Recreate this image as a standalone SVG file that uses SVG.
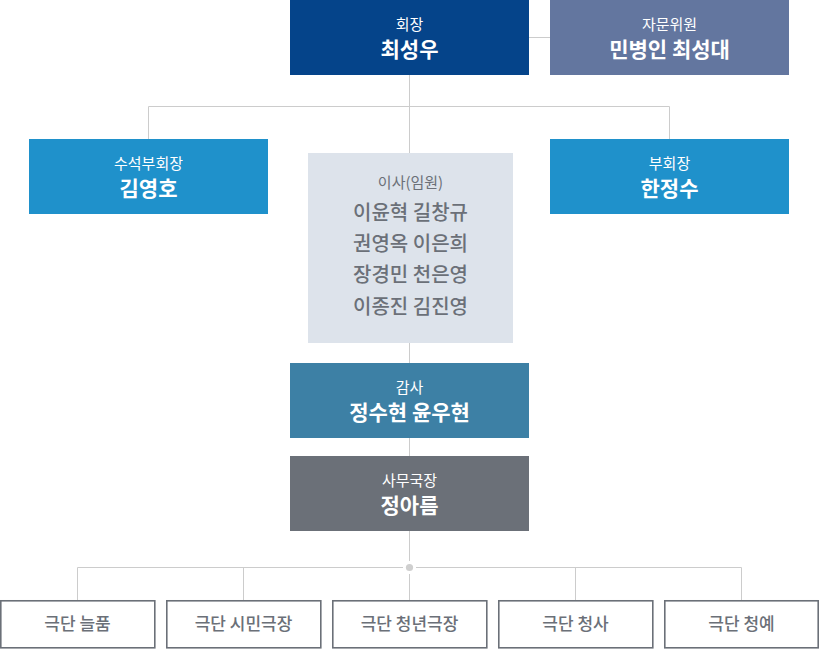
<svg xmlns="http://www.w3.org/2000/svg" width="819" height="649" viewBox="0 0 819 649">
<style>
text{font-family:"Noto Sans CJK KR","Noto Sans",sans-serif;text-anchor:middle}
.t{fill:#fff;font-size:15px;font-weight:400}
.n{fill:#fff;font-size:21px;font-weight:700}
.line{stroke:#cccccc;stroke-width:1;fill:none}
.bot rect{fill:#fff;stroke:#6b7078;stroke-width:1.6}
.bt{fill:#6b7078;font-size:17px;font-weight:500}
.it{fill:#6b7078;font-size:15px;font-weight:400}
.in{fill:#6b7078;font-size:20px;font-weight:500}
</style>
<rect width="819" height="649" fill="#fff"/>
<g id="connectors">
<path class="line" d="M529 37.5H550"/>
<path class="line" d="M409.5 74V363"/>
<path class="line" d="M148.5 139V106.5H669.5V139"/>
<path class="line" d="M409.5 437V456"/>
<path class="line" d="M409.5 530V561"/>
<path class="line" d="M409.5 574V600"/>
<path class="line" d="M403 567.5H77.5V600"/>
<path class="line" d="M416 567.5H741.5V600"/>
<path class="line" d="M243.5 567.5V600"/>
<path class="line" d="M575.5 567.5V600"/>
<circle cx="409.5" cy="567.5" r="3.6" fill="#cfcfcf"/>
</g>
<g id="chairman">
<rect x="290" y="0" width="239" height="75" fill="#05448a"/>
<text class="t" x="409.5" y="30">회장</text>
<text class="n" x="409.5" y="57">최성우</text>
</g>
<g id="advisor">
<rect x="550" y="0" width="239" height="75" fill="#63769f"/>
<text class="t" x="669.5" y="30">자문위원</text>
<text class="n" x="669.5" y="57">민병인 최성대</text>
</g>
<g id="senior-vice">
<rect x="29" y="139" width="239" height="75" fill="#1f91cb"/>
<text class="t" x="148.5" y="169">수석부회장</text>
<text class="n" x="148.5" y="196">김영호</text>
</g>
<g id="vice">
<rect x="550" y="139" width="239" height="75" fill="#1f91cb"/>
<text class="t" x="669.5" y="169">부회장</text>
<text class="n" x="669.5" y="196">한정수</text>
</g>
<g id="directors">
<rect x="308" y="153" width="205" height="190" fill="#dde3eb"/>
<text class="it" x="410.5" y="188">이사(임원)</text>
<text class="in" x="410.5" y="220">이윤혁 길창규</text>
<text class="in" x="410.5" y="251">권영옥 이은희</text>
<text class="in" x="410.5" y="282">장경민 천은영</text>
<text class="in" x="410.5" y="314">이종진 김진영</text>
</g>
<g id="auditor">
<rect x="290" y="363" width="239" height="75" fill="#3d80a5"/>
<text class="t" x="409.5" y="393">감사</text>
<text class="n" x="409.5" y="420">정수현 윤우현</text>
</g>
<g id="secretary">
<rect x="290" y="456" width="239" height="75" fill="#6b7078"/>
<text class="t" x="409.5" y="486">사무국장</text>
<text class="n" x="409.5" y="513">정아름</text>
</g>
<g id="troupe1" class="bot"><rect x="0.8" y="600.8" width="154" height="47"/><text class="bt" x="77.5" y="630">극단 늘품</text></g>
<g id="troupe2" class="bot"><rect x="166.8" y="600.8" width="154" height="47"/><text class="bt" x="243.5" y="630">극단 시민극장</text></g>
<g id="troupe3" class="bot"><rect x="332.8" y="600.8" width="154" height="47"/><text class="bt" x="409.5" y="630">극단 청년극장</text></g>
<g id="troupe4" class="bot"><rect x="498.8" y="600.8" width="154" height="47"/><text class="bt" x="575.5" y="630">극단 청사</text></g>
<g id="troupe5" class="bot"><rect x="664.8" y="600.8" width="153.4" height="47"/><text class="bt" x="741.5" y="630">극단 청예</text></g>
</svg>
